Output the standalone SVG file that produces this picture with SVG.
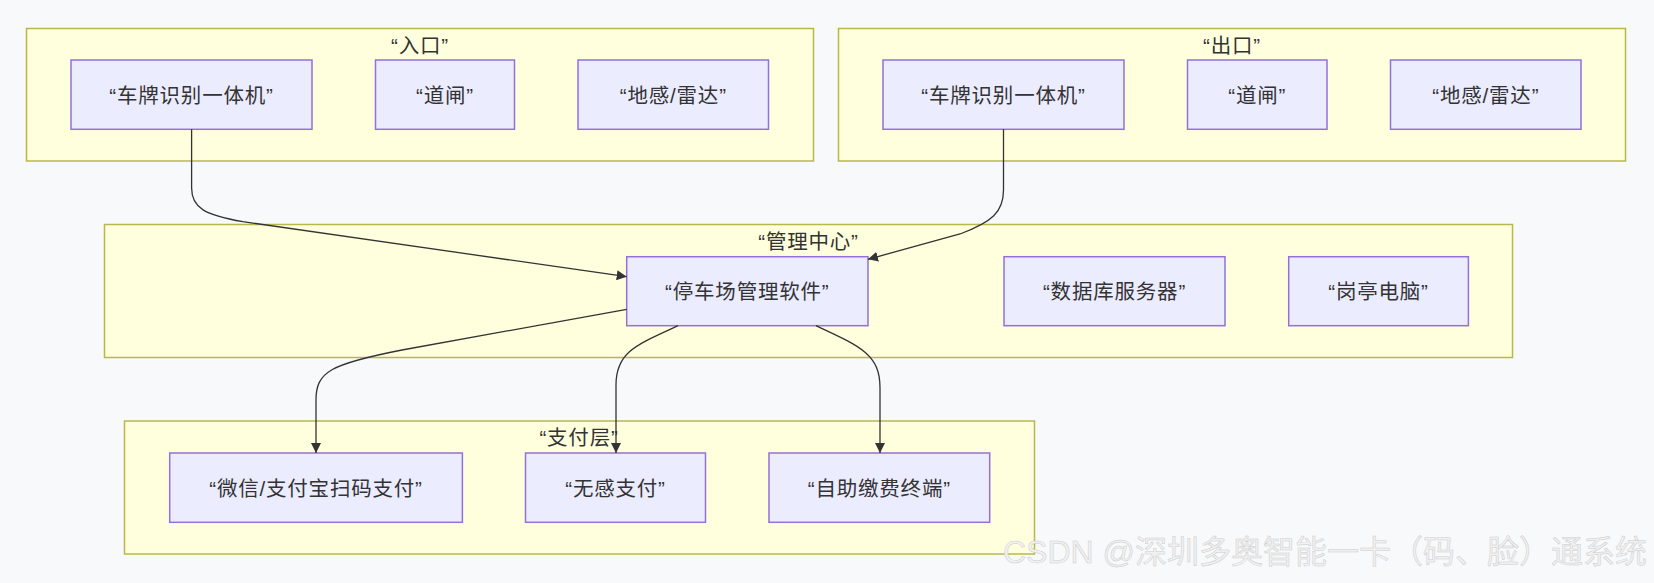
<svg xmlns="http://www.w3.org/2000/svg" width="1654" height="583" viewBox="0 0 1654 583">
<style>
.cluster{fill:#ffffde;stroke:#b8b84a;stroke-width:1.5}
.node{fill:#ececff;stroke:#9370db;stroke-width:1.5}
.lbl{font-family:"Liberation Sans","Noto Sans CJK SC",sans-serif;font-size:20.5px;letter-spacing:0.8px;fill:#333;text-anchor:middle;dominant-baseline:central}
.edge{fill:none;stroke:#333;stroke-width:1.3}
.wm{font-family:"Liberation Sans","Noto Sans CJK SC",sans-serif;font-size:32px;fill:#f1f1f1;stroke:#cdcdcd;stroke-width:0.5}
</style>
<defs>
<marker id="arr" viewBox="0 0 10 10" refX="10" refY="5" markerWidth="10" markerHeight="10" markerUnits="userSpaceOnUse" orient="auto">
<path d="M0,0 L10,5 L0,10 z" fill="#333"/>
</marker>
</defs>
<rect width="1654" height="583" fill="#f8f9fb"/>
<g id="cluster-entry">
<rect class="cluster" x="26.5" y="28.5" width="787" height="132.5"/>
<text class="lbl" x="420" y="45.5">“入口”</text>
</g>
<g id="cluster-exit">
<rect class="cluster" x="838.5" y="28.5" width="787" height="132.5"/>
<text class="lbl" x="1232" y="45.5">“出口”</text>
</g>
<g id="cluster-mgmt">
<rect class="cluster" x="104.5" y="224.5" width="1408" height="133"/>
<text class="lbl" x="808.5" y="241.5">“管理中心”</text>
</g>
<g id="cluster-pay">
<rect class="cluster" x="124.5" y="421" width="910" height="133"/>
<text class="lbl" x="579" y="437">“支付层”</text>
</g>
<g id="in-lpr">
<rect class="node" x="71" y="60" width="241" height="69.3"/>
<text class="lbl" x="191.5" y="95">“车牌识别一体机”</text>
</g>
<g id="in-gate">
<rect class="node" x="375.5" y="60" width="139" height="69.3"/>
<text class="lbl" x="445" y="95">“道闸”</text>
</g>
<g id="in-sensor">
<rect class="node" x="578" y="60" width="190.5" height="69.3"/>
<text class="lbl" x="673.3" y="95">“地感/雷达”</text>
</g>
<g id="out-lpr">
<rect class="node" x="883" y="60" width="241" height="69.3"/>
<text class="lbl" x="1003.5" y="95">“车牌识别一体机”</text>
</g>
<g id="out-gate">
<rect class="node" x="1187.5" y="60" width="139.5" height="69.3"/>
<text class="lbl" x="1257.3" y="95">“道闸”</text>
</g>
<g id="out-sensor">
<rect class="node" x="1390.5" y="60" width="190.5" height="69.3"/>
<text class="lbl" x="1485.8" y="95">“地感/雷达”</text>
</g>
<g id="software">
<rect class="node" x="626.7" y="256.7" width="241.3" height="69"/>
<text class="lbl" x="747.3" y="291.5">“停车场管理软件”</text>
</g>
<g id="db">
<rect class="node" x="1004" y="256.7" width="221" height="69"/>
<text class="lbl" x="1114.5" y="291.5">“数据库服务器”</text>
</g>
<g id="booth">
<rect class="node" x="1288.7" y="256.7" width="179.7" height="69"/>
<text class="lbl" x="1378.5" y="291.5">“岗亭电脑”</text>
</g>
<g id="pay-qr">
<rect class="node" x="169.7" y="453" width="292.7" height="69.3"/>
<text class="lbl" x="316" y="488">“微信/支付宝扫码支付”</text>
</g>
<g id="pay-auto">
<rect class="node" x="525.5" y="453" width="180" height="69.3"/>
<text class="lbl" x="615.5" y="488">“无感支付”</text>
</g>
<g id="pay-kiosk">
<rect class="node" x="769" y="453" width="220.7" height="69.3"/>
<text class="lbl" x="879.3" y="488">“自助缴费终端”</text>
</g>
<g id="edges">
<path class="edge" marker-end="url(#arr)" d="M191.6,129.3 L191.6,188 C191.6,208 205,215 243,221.7 L626.7,276.7"/>
<path class="edge" marker-end="url(#arr)" d="M1003.5,129.3 L1003.5,190 C1003.5,212 992,222 960,234 L868,259.3"/>
<path class="edge" marker-end="url(#arr)" d="M626.7,309.3 L402,350 C330,364 316,372 316,400 L316,453"/>
<path class="edge" marker-end="url(#arr)" d="M678,325.7 C636,345 616,352 616,385 L616,453"/>
<path class="edge" marker-end="url(#arr)" d="M816,325.7 C862,347 880,355 880,388 L880,453"/>
</g>
<text class="wm" x="1003" y="563">CSDN @深圳多奥智能一卡（码、脸）通系统</text>
</svg>
